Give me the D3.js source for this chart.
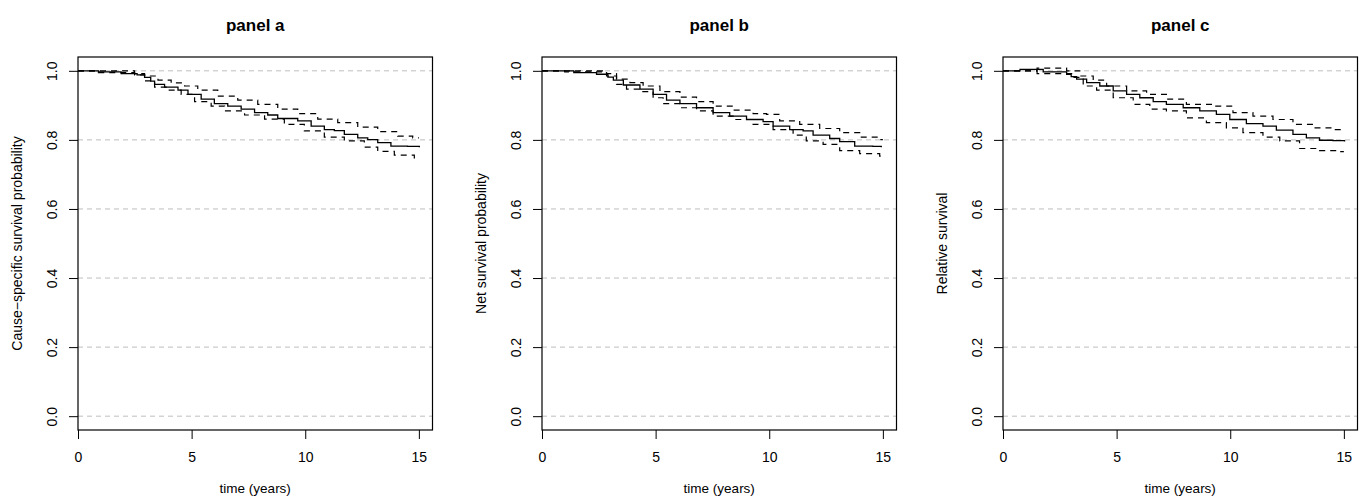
<!DOCTYPE html>
<html>
<head>
<meta charset="utf-8">
<script src="https://cdn.jsdelivr.net/npm/d3@7"></script>
<style>
body { margin: 0; background: #fff; }
text { font-family: "Liberation Sans", Arial, Helvetica, sans-serif; fill: #000; }
</style>
</head>
<body>
<div id="chart"></div>
<script>
// ---- data ----
var xTicks = [0, 5, 10, 15];
var yTicks = [0, 0.2, 0.4, 0.6, 0.8, 1.0];
var panelTitles = ["panel a", "panel b", "panel c"];
var yLabels = ["Cause\u2212specific survival probability", "Net survival probability", "Relative survival"];
var xLabel = "time (years)";

// [time, value] steps
var estA = [[0,1],[0.9,0.997],[1.9,0.992],[2.6,0.988],[2.93,0.981],[3.2,0.97],[3.37,0.961],[3.81,0.953],[4.4,0.944],[4.84,0.932],[5.42,0.918],[6.0,0.905],[6.59,0.898],[7.18,0.889],[7.77,0.879],[8.35,0.872],[8.79,0.862],[9.67,0.855],[10.26,0.84],[10.84,0.83],[11.28,0.827],[11.72,0.816],[12.31,0.806],[12.75,0.801],[13.19,0.792],[13.77,0.782],[14.5,0.781],[15.02,0.779]];
var upA  = [[0,1],[2.49,0.992],[2.93,0.985],[3.52,0.973],[4.1,0.965],[4.69,0.956],[5.27,0.944],[6.15,0.927],[7.03,0.915],[7.91,0.903],[8.79,0.889],[9.67,0.876],[10.55,0.86],[11.43,0.85],[12.31,0.837],[13.19,0.824],[14.07,0.811],[14.73,0.806],[15,0.806]];
var loA  = [[0,1],[0.9,0.995],[2.49,0.988],[2.93,0.971],[3.37,0.953],[3.96,0.944],[4.54,0.932],[5.13,0.911],[5.86,0.898],[6.45,0.884],[7.33,0.872],[8.21,0.86],[9.08,0.845],[9.96,0.826],[10.84,0.808],[11.72,0.797],[12.6,0.779],[13.19,0.767],[13.92,0.756],[14.8,0.748],[15,0.748]];

var estB = [[0,1],[1.4,0.995],[2.4,0.99],[2.9,0.982],[3.14,0.973],[3.58,0.959],[4.31,0.947],[4.89,0.932],[5.48,0.915],[6.07,0.905],[6.8,0.893],[7.53,0.879],[8.26,0.869],[9.0,0.859],[9.73,0.853],[10.17,0.84],[10.9,0.83],[11.49,0.826],[11.93,0.814],[12.66,0.804],[13.1,0.795],[13.76,0.782],[14.56,0.781],[14.93,0.779]];
var upB  = [[0,1],[2.84,0.992],[3.28,0.976],[3.87,0.966],[4.45,0.956],[5.19,0.94],[6.07,0.924],[6.8,0.911],[7.53,0.898],[8.41,0.886],[9.29,0.876],[9.88,0.874],[10.46,0.855],[11.34,0.845],[12.22,0.833],[13.1,0.821],[13.98,0.808],[14.78,0.801],[15,0.801]];
var loB  = [[0,1],[1.0,0.997],[2.84,0.985],[3.28,0.961],[3.72,0.947],[4.31,0.94],[4.89,0.922],[5.33,0.905],[6.07,0.893],[6.8,0.884],[7.53,0.869],[8.41,0.859],[9.29,0.845],[10.17,0.83],[11.05,0.814],[11.63,0.797],[12.37,0.787],[13.1,0.769],[13.98,0.76],[14.86,0.753],[15,0.753]];

var estC = [[0,1],[0.75,1.004],[1.77,0.997],[2.8,0.99],[3.0,0.983],[3.24,0.976],[3.68,0.966],[4.26,0.956],[4.85,0.942],[5.44,0.932],[6.02,0.922],[6.61,0.911],[7.19,0.903],[7.93,0.893],[8.66,0.884],[9.39,0.874],[9.98,0.859],[10.71,0.847],[11.44,0.84],[12.03,0.828],[12.76,0.816],[13.35,0.806],[13.93,0.799],[14.52,0.798],[15.03,0.795]];
var upC  = [[0,1],[1.5,1.008],[2.8,1.0],[3.38,0.985],[3.97,0.973],[4.56,0.956],[5.44,0.942],[6.32,0.932],[7.19,0.918],[8.07,0.903],[9.25,0.898],[10.12,0.879],[11.0,0.869],[11.88,0.859],[12.76,0.845],[13.64,0.835],[14.52,0.83],[15,0.83]];
var loC  = [[0,1],[1.5,0.992],[3.09,0.981],[3.53,0.956],[4.12,0.944],[4.85,0.922],[5.73,0.903],[6.46,0.889],[7.19,0.884],[8.07,0.864],[8.95,0.85],[9.83,0.835],[10.56,0.821],[11.44,0.808],[12.18,0.797],[13.05,0.775],[13.93,0.769],[14.81,0.766],[15,0.766]];

var estimates = [estA, estB, estC];
var uppers = [upA, upB, upC];
var lowers = [loA, loB, loC];

// ---- layout ----
var panelLeft = [78, 542, 1003];
var panelTop = 57;
var boxW = 354.5, boxH = 373;

var svg = d3.select("#chart")
    .append("svg")
    .attr("width", 1367)
    .attr("height", 498);

svg.append("rect").attr("width", 1367).attr("height", 498).style("fill", "#fff");

var x = d3.scaleLinear().domain([0, 15.6]).range([0, boxW]);
var y = d3.scaleLinear().domain([-0.04, 1.04]).range([boxH, 0]);

var lineGenerator = d3.line()
    .x(function (d) { return x(d[0]); })
    .y(function (d) { return y(d[1]); })
    .curve(d3.curveStepAfter);

panelTitles.forEach(function (title, i) {
    var g = svg.append("g")
        .attr("class", "panel")
        .attr("transform", "translate(" + panelLeft[i] + "," + panelTop + ")");

    // dashed grey reference lines
    g.append("g")
        .selectAll("line")
        .data(yTicks)
        .enter()
        .append("line")
        .attr("x1", x.range()[0])
        .attr("x2", x.range()[1])
        .attr("y1", function (d) { return y(d); })
        .attr("y2", function (d) { return y(d); })
        .style("stroke", "#bebebe")
        .style("stroke-width", 1)
        .style("stroke-dasharray", "5,4");

    // x axis
    g.append("g")
        .attr("transform", "translate(0," + boxH + ")")
        .call(d3.axisBottom(x).tickValues(xTicks).tickSize(9).tickFormat(d3.format("d")))
        .call(function (a) { a.select(".domain").remove(); })
        .call(function (a) {
            a.selectAll("line").style("stroke", "#000");
            a.selectAll("text")
                .attr("y", 27)
                .attr("dy", "0.35em")
                .style("font-size", "14px")
                .style("font-family", "Liberation Sans, Arial, sans-serif")
                .style("fill", "#000");
        });

    // y axis, labels turned like R's las=0
    g.append("g")
        .call(d3.axisLeft(y).tickValues(yTicks).tickSize(9).tickFormat(d3.format(".1f")))
        .call(function (a) { a.select(".domain").remove(); })
        .call(function (a) {
            a.selectAll("line").style("stroke", "#000");
            a.selectAll("text")
                .attr("x", 0)
                .attr("dy", null)
                .attr("transform", "translate(-26,0) rotate(-90)")
                .attr("text-anchor", "middle")
                .attr("dominant-baseline", "central")
                .style("font-size", "14px")
                .style("font-family", "Liberation Sans, Arial, sans-serif")
                .style("fill", "#000");
        });

    // curves
    g.append("path")
        .attr("d", lineGenerator(uppers[i]))
        .style("fill", "none")
        .style("stroke", "#000")
        .style("stroke-width", 1.2)
        .style("stroke-dasharray", "6,5");

    g.append("path")
        .attr("d", lineGenerator(lowers[i]))
        .style("fill", "none")
        .style("stroke", "#000")
        .style("stroke-width", 1.2)
        .style("stroke-dasharray", "6,5");

    g.append("path")
        .attr("d", lineGenerator(estimates[i]))
        .style("fill", "none")
        .style("stroke", "#000")
        .style("stroke-width", 1.3);

    // box
    g.append("rect")
        .attr("x", x.range()[0])
        .attr("y", y.range()[1])
        .attr("width", x.range()[1] - x.range()[0])
        .attr("height", y.range()[0] - y.range()[1])
        .style("fill", "none")
        .style("stroke", "#000")
        .style("stroke-width", 1.2);

    // texts
    g.append("text")
        .attr("x", boxW / 2)
        .attr("y", -26)
        .attr("text-anchor", "middle")
        .style("font-size", "17px")
        .style("font-weight", "bold")
        .text(title);

    g.append("text")
        .attr("x", boxW / 2)
        .attr("y", 431)
        .attr("text-anchor", "middle")
        .attr("dominant-baseline", "central")
        .style("font-size", "13.5px")
        .text(xLabel);

    g.append("text")
        .attr("transform", "translate(-61," + (boxH / 2) + ") rotate(-90)")
        .attr("text-anchor", "middle")
        .attr("dominant-baseline", "central")
        .style("font-size", "14px")
        .text(yLabels[i]);
});
</script>
</body>
</html>
